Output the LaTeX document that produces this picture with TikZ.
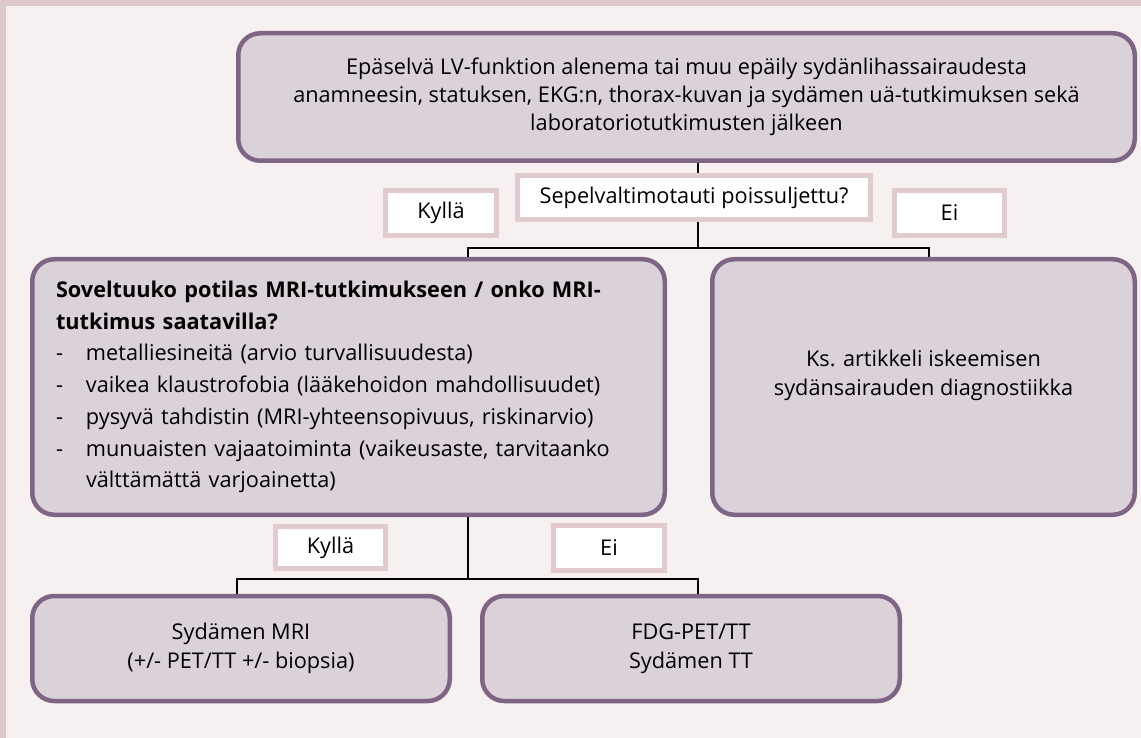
\documentclass[tikz,border=0pt]{standalone}
\usepackage{fontspec}
\setmainfont{Open Sans}
\definecolor{framec}{HTML}{DEC8CC}
\definecolor{bgc}{HTML}{F6F0F0}
\definecolor{boxfill}{HTML}{DBD1D9}
\definecolor{boxdraw}{HTML}{7E6585}
\definecolor{lblc}{HTML}{E2CBCF}
\tikzset{
  box/.style={draw=boxdraw, fill=boxfill, line width=4.5pt, rounded corners=22pt, inner sep=0pt, align=center, font=\fontsize{21.7}{28.5}\selectfont},
  lbl/.style={draw=lblc, fill=white, line width=5pt, inner sep=0pt, font=\fontsize{21.7}{28}\selectfont},
  conn/.style={draw=black, line width=2.6pt, line join=miter}
}
\begin{document}
\begin{tikzpicture}[x=1pt,y=-1pt]
\useasboundingbox (0,0) rectangle (1141,738);
\fill[framec] (0,0) rectangle (1141,738);
\fill[bgc] (6,6) rectangle (1141,738);

\node[box, minimum width=896.5, minimum height=127.5, font=\fontsize{21.7}{28}\selectfont] (top) at (686.5,97)
  {Epäselvä LV-funktion alenema tai muu epäily sydänlihassairaudesta\\
   anamneesin, statuksen, EKG:n, thorax-kuvan ja sydämen uä-tutkimuksen sekä\\
   laboratoriotutkimusten jälkeen};

\node[box, minimum width=632.5, minimum height=255.5, text width=585, align=left,
      font=\fontsize{21.7}{31.7}\selectfont] (mri) at (348.5,387)
  {\textbf{Soveltuuko potilas MRI-tutkimukseen / onko MRI-}\\
   \textbf{tutkimus saatavilla?}\\
   \makebox[30pt][l]{-}metalliesineitä (arvio turvallisuudesta)\\
   \makebox[30pt][l]{-}vaikea klaustrofobia (lääkehoidon mahdollisuudet)\\
   \makebox[30pt][l]{-}pysyvä tahdistin (MRI-yhteensopivuus, riskinarvio)\\
   \makebox[30pt][l]{-}munuaisten vajaatoiminta (vaikeusaste, tarvitaanko\\
   \hspace*{30pt}välttämättä varjoainetta)};

\node[box, minimum width=422.5, minimum height=255.5] (isk) at (923.5,387)
  {Ks. artikkeli iskeemisen\\sydänsairauden diagnostiikka\\\mbox{}};

\node[box, minimum width=417.5, minimum height=105] (bl) at (241,648.5)
  {Sydämen MRI\\(+/- PET/TT +/- biopsia)};
\node[box, minimum width=417.5, minimum height=105] (br) at (691,648.5)
  {FDG-PET/TT\\Sydämen TT};

\coordinate (j1) at (698,248);
\coordinate (j1l) at (468,248);
\coordinate (j1r) at (929,248);
\coordinate (j2) at (468,579);
\coordinate (j2l) at (237,579);
\coordinate (j2r) at (698,579);

\draw[conn] (top.south -| j1) -- (j1);
\draw[conn] (j1l |- mri.north) -- (j1l) -- (j1r) -- (j1r |- isk.north);
\draw[conn] (j2 |- mri.south) -- (j2);
\draw[conn] (j2l |- bl.north) -- (j2l) -- (j2r) -- (j2r |- br.north);

\node[lbl, minimum width=353, minimum height=44] (q) at (694,197.5) {Sepelvaltimotauti poissuljettu?};
\node[lbl, minimum width=111, minimum height=45] (k1) at (441,213) {Kyllä};
\node[lbl, minimum width=110, minimum height=45] (e1) at (949.5,213) {Ei};
\node[lbl, minimum width=110, minimum height=42] (k2) at (330.5,547.5) {Kyllä};
\node[lbl, minimum width=111, minimum height=45] (e2) at (609,548) {Ei};
\end{tikzpicture}
\end{document}
